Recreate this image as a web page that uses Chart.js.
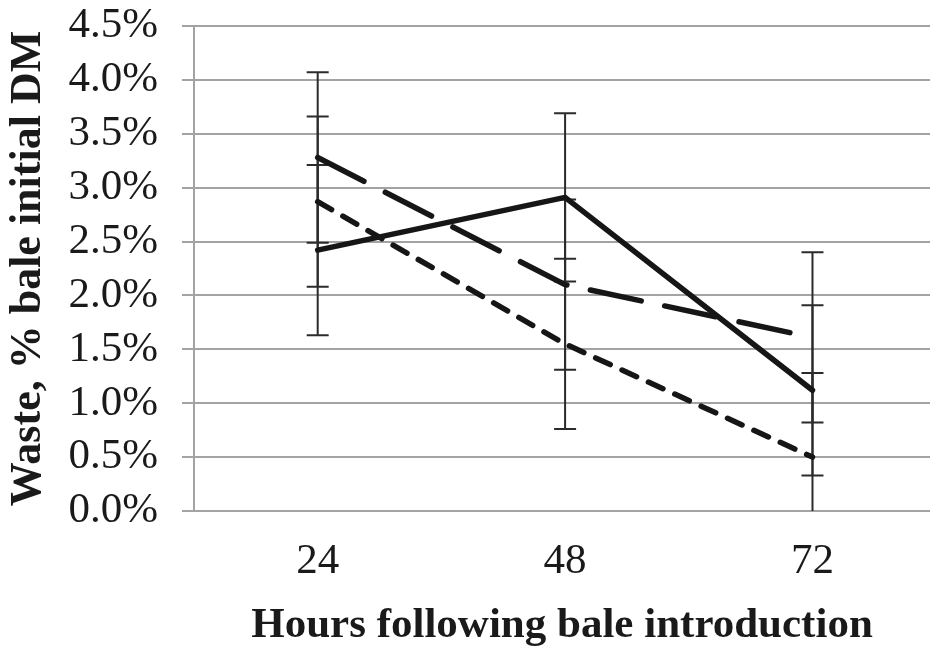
<!DOCTYPE html>
<html>
<head>
<meta charset="utf-8">
<script src="https://cdn.jsdelivr.net/npm/chart.js@4.4.1/dist/chart.umd.min.js"></script>
<style>
  html, body { margin: 0; padding: 0; background: #fff; overflow: hidden; width: 930px; height: 646px; scrollbar-width: none; }
  ::-webkit-scrollbar { width: 0; height: 0; display: none; }
  #wasteChart { display: block; width: 930px; height: 646px; }
</style>
</head>
<body>
<canvas id="wasteChart" width="930" height="646"></canvas>
<script>
// ===== data (% of bale initial DM) =====
const hours = [24, 48, 72];
const solidLine = [2.42, 2.91, 1.12];
const longDashLine = [3.28, 2.10, 1.61];
const shortDashLine = [2.87, 1.55, 0.50];
// +/- error bar half-lengths
const solidErr = [0.79, 0.78, 0.79];
const longDashErr = [0.79, 0.79, 0.79];
const shortDashErr = [0.79, 0.79, 0.78];
const yTicks = [0, 0.5, 1.0, 1.5, 2.0, 2.5, 3.0, 3.5, 4.0, 4.5];

const serif = "'Liberation Serif', 'Times New Roman', serif";

const toPoints = (vals) => hours.map((h, i) => ({ x: h, y: vals[i] }));

// ===== error bars drawn through the scales =====
const errorBars = {
  id: "errorBars",
  beforeDatasetsDraw(chart) {
    const { ctx, chartArea, scales } = chart;
    ctx.save();
    ctx.beginPath();
    ctx.rect(chartArea.left, chartArea.top, chartArea.right - chartArea.left, chartArea.bottom - chartArea.top);
    ctx.clip();
    ctx.strokeStyle = "#2b2b2b";
    ctx.lineWidth = 2;
    chart.data.datasets.forEach((ds) => {
      ds.data.forEach((p, j) => {
        const e = ds.errors[j];
        const x = scales.x.getPixelForValue(p.x);
        const yTop = scales.y.getPixelForValue(p.y + e);
        const yBot = scales.y.getPixelForValue(p.y - e);
        ctx.beginPath();
        ctx.moveTo(x, yTop);
        ctx.lineTo(x, yBot);
        [yTop, yBot].forEach((yy) => {
          if (yy >= chartArea.top && yy <= chartArea.bottom - 1) {
            ctx.moveTo(x - 11, yy);
            ctx.lineTo(x + 11, yy);
          }
        });
        ctx.stroke();
      });
    });
    ctx.restore();
  }
};

const ctx = document.getElementById("wasteChart").getContext("2d");

new Chart(ctx, {
  type: "line",
  data: {
    datasets: [
      {
        label: "Solid",
        data: toPoints(solidLine),
        errors: solidErr,
        borderColor: "#161616",
        borderWidth: 5.5,
        borderCapStyle: "round",
        borderJoinStyle: "miter",
        pointRadius: 0,
        tension: 0
      },
      {
        label: "Long dash",
        data: toPoints(longDashLine),
        errors: longDashErr,
        borderColor: "#161616",
        borderWidth: 5.5,
        borderDash: [52, 24],
        borderCapStyle: "round",
        pointRadius: 0,
        tension: 0
      },
      {
        label: "Short dash",
        data: toPoints(shortDashLine),
        errors: shortDashErr,
        borderColor: "#161616",
        borderWidth: 5.5,
        borderDash: [16, 13],
        borderCapStyle: "round",
        pointRadius: 0,
        tension: 0
      }
    ]
  },
  options: {
    responsive: false,
    animation: false,
    layout: { padding: { left: 0, right: 0, top: 26, bottom: 0 } },
    plugins: { legend: { display: false }, tooltip: { enabled: false } },
    scales: {
      x: {
        type: "linear",
        // plot spans half a band either side of the 24 h spacing; right edge is cropped like the original
        min: 12,
        max: 83.4,
        afterBuildTicks(scale) { scale.ticks = hours.map((h) => ({ value: h })); },
        grid: { display: false, drawTicks: false },
        border: { display: false },
        ticks: {
          color: "#1a1a1a",
          font: { family: serif, size: 43 },
          padding: 25,
          autoSkip: false,
          maxRotation: 0,
          callback: (v) => String(v)
        },
        title: {
          display: true,
          text: "Hours following bale introduction",
          color: "#1a1a1a",
          font: { family: serif, size: 43, weight: "bold", lineHeight: 0.8 },
          padding: { top: 0, bottom: 3 }
        },
        afterFit(scale) {
          scale.height = 135;
          scale.paddingLeft = 0;
          scale.paddingRight = 0;
        }
      },
      y: {
        min: 0,
        max: 4.5,
        afterBuildTicks(scale) { scale.ticks = yTicks.map((v) => ({ value: v })); },
        grid: { color: "#a3a3a3", lineWidth: 2, tickLength: 12 },
        border: { display: true, color: "#a3a3a3", width: 2 },
        ticks: {
          color: "#1a1a1a",
          font: { family: serif, size: 43 },
          padding: 24,
          autoSkip: false,
          callback: (v) => Number(v).toFixed(1) + "%"
        },
        title: {
          display: true,
          text: "Waste, % bale initial DM",
          color: "#1a1a1a",
          font: { family: serif, size: 44, weight: "bold" },
          padding: { top: 2, bottom: 0 }
        },
        afterFit(scale) {
          scale.width = 194;
          scale.paddingTop = 0;
          scale.paddingBottom = 0;
        }
      }
    }
  },
  plugins: [errorBars]
});
</script>
</body>
</html>
